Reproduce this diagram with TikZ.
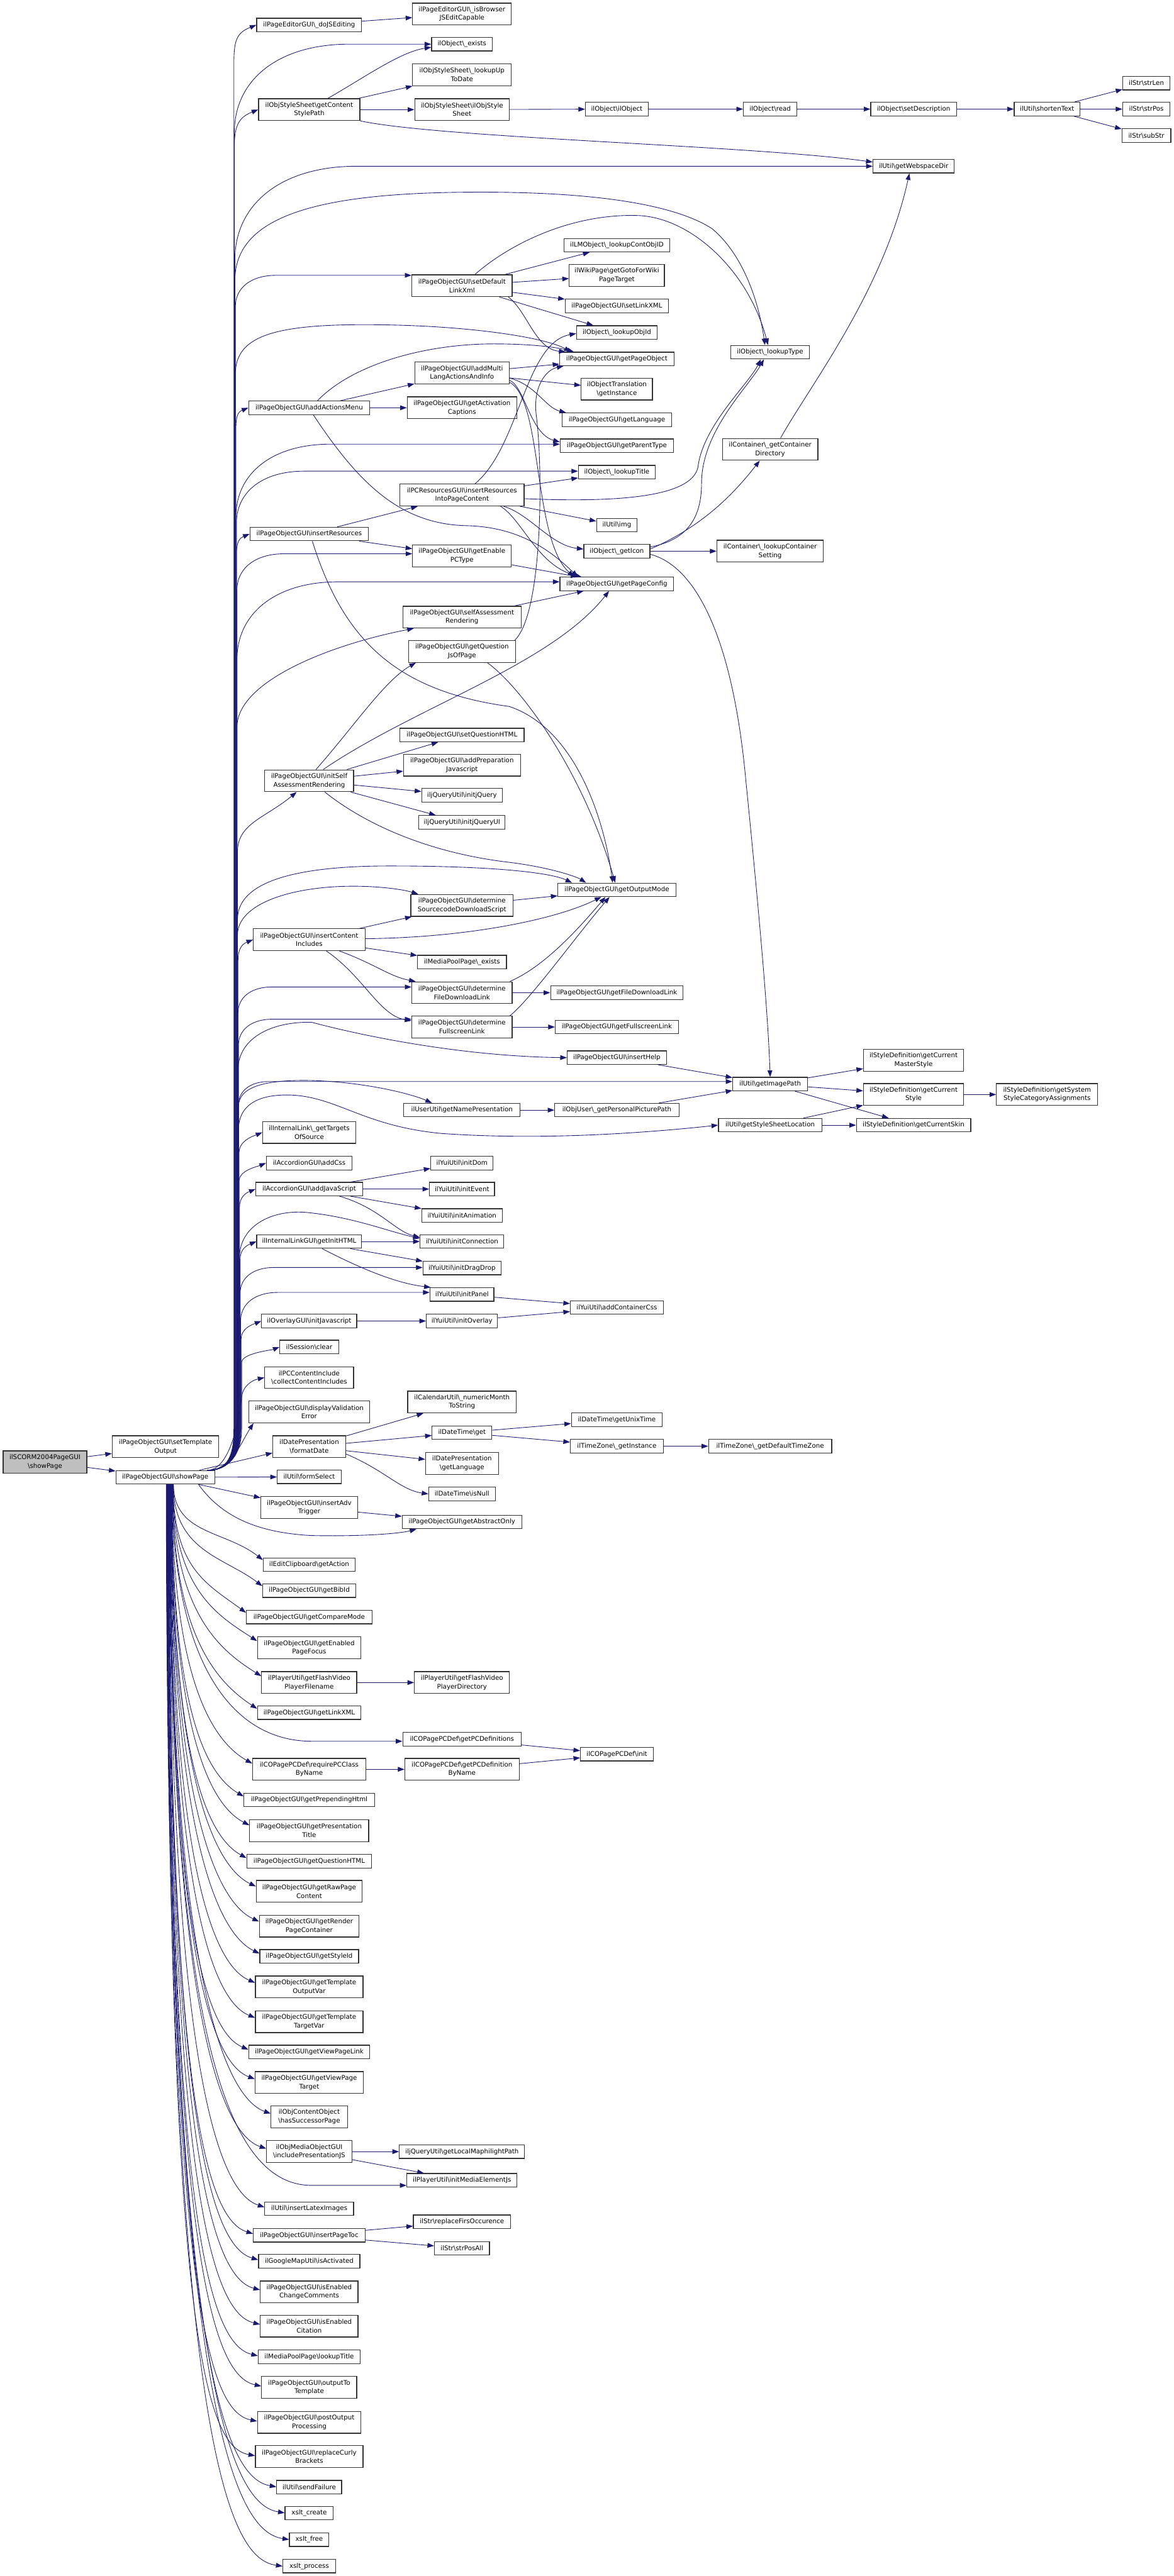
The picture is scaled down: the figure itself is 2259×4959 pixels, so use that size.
\documentclass[tikz,border=0pt]{standalone}
\usepackage{fontspec}
\setmainfont{DejaVu Sans}
\usetikzlibrary{arrows.meta,calc}
\definecolor{edgeblue}{HTML}{191970}
\definecolor{rootgray}{HTML}{BFBFBF}
\newcommand\bs{\textbackslash}
\newcommand\nodefont{\fontsize{3.53pt}{4.69pt}\selectfont}
\tikzset{
 nbox/.style={draw=black!80, line width=0.42pt, fill=white, inner sep=0pt, align=center, font=\nodefont},
 rootbox/.style={nbox, fill=rootgray},
 conn/.style={draw=edgeblue, line width=0.3pt, -{Triangle[length=3.6pt,width=2.6pt]}},
}
\newcommand\nd[6]{\node[nbox, minimum width={#4*0.01cm}, minimum height={#5*0.01cm}] (#1) at (#2,#3) {#6};}
\newcommand\fanU[4]{\draw[conn] ($(POshow.north east)+(-15,0)$) .. controls (440,2831) and (#3,2800) .. (#3,2750) -- (#3,{#2+#4}) .. controls (#3,{#2+0.4*#4}) and ($(#1)+({-0.5*#4},{0.2*#4})$) .. (#1);}
\newcommand\fanUf[4]{\draw[conn] ($(POshow.north east)+(-15,0)$) .. controls (440,2831) and (#3,2800) .. (#3,2750) -- (#3,{#2+#4}) .. controls (#3,{#2+0.4*#4}) and ({#3+0.5*#4},#2) .. ({#3+1.3*#4},#2) -- (#1 |- 0,#2);}
\newcommand\fanD[2]{%
 \pgfmathsetmacro\dd{(#2-2857)/2083}%
 \pgfmathsetmacro\sx{320+15*(1-\dd)}%
 \pgfmathsetmacro\cy{2857+(0.6+0.3*\dd)*(#2-2857)}%
 \pgfmathsetmacro\ex{70+30*\dd}%
 \pgfmathsetmacro\ey{70*(1-0.8*\dd)}%
 \pgfmathsetmacro\fr{0.15+0.35*\dd}%
 \draw[conn] (POshow.south -| \sx,0) .. controls (\sx,\cy) and ($(#1.west)+(-\ex,-\ey)$) .. ($(#1.north west)!\fr!(#1.south west)$);}
\newcommand\fanDf[2]{%
 \pgfmathsetmacro\dd{(#2-2857)/2083}%
 \pgfmathsetmacro\sx{320+15*(1-\dd)}%
 \pgfmathsetmacro\cy{2857+(0.6+0.3*\dd)*(#2-2857)}%
 \draw[conn] (POshow.south -| \sx,0) .. controls (\sx,\cy) and (440,#2) .. (600,#2) -- (#1.west |- 0,#2);}
\begin{document}
\begin{tikzpicture}[x=0.01cm,y=-0.01cm]
\fill[white] (0,0) rectangle (2259,4959);
\useasboundingbox (0,0) rectangle (2259,4959);
% ---------------- nodes
\node[rootbox, minimum width={161*0.01cm}, minimum height={43*0.01cm}] (root) at (86.5,2814.5) {ilSCORM2004PageGUI\\\bs showPage};
\nd{setTO}{318.5}{2785}{205}{42}{ilPageObjectGUI\bs setTemplate\\Output}
\nd{POshow}{318}{2844}{190}{26}{ilPageObjectGUI\bs showPage}
% column 2
\nd{doJS}{595}{48}{202}{26}{ilPageEditorGUI\bs\_doJSEditing}
\nd{getCSP}{595}{211}{195}{42}{ilObjStyleSheet\bs getContent\\StylePath}
\nd{addAM}{595}{785}{233}{26}{ilPageObjectGUI\bs addActionsMenu}
\nd{insRes}{595}{1028}{228}{26}{ilPageObjectGUI\bs insertResources}
\nd{initSAR}{595}{1503}{171}{42}{ilPageObjectGUI\bs initSelf\\AssessmentRendering}
\nd{insCI}{595}{1809}{215}{42}{ilPageObjectGUI\bs insertContent\\Includes}
\nd{getTOS}{595}{2180}{179}{42}{ilInternalLink\bs\_getTargets\\OfSource}
\nd{addCss}{595}{2239}{165}{26}{ilAccordionGUI\bs addCss}
\nd{addJS}{595}{2289}{205}{26}{ilAccordionGUI\bs addJavaScript}
\nd{getInitHTML}{595}{2390}{202}{26}{ilInternalLinkGUI\bs getInitHTML}
\nd{ovInitJS}{595}{2543}{183}{26}{ilOverlayGUI\bs initJavascript}
\nd{sessClear}{595}{2593}{113}{26}{ilSession\bs clear}
\nd{collectCI}{595}{2652}{171}{42}{ilPCContentInclude\\\bs collectContentIncludes}
\nd{dispVE}{595}{2718}{233}{42}{ilPageObjectGUI\bs displayValidation\\Error}
\nd{formatDate}{595}{2785}{140}{42}{ilDatePresentation\\\bs formatDate}
\nd{formSelect}{595}{2843}{123}{26}{ilUtil\bs formSelect}
\nd{insAdv}{595}{2902}{186}{42}{ilPageObjectGUI\bs insertAdv\\Trigger}
\nd{getAction}{595}{3012}{177}{26}{ilEditClipboard\bs getAction}
\nd{getBibId}{595}{3062}{179}{26}{ilPageObjectGUI\bs getBibId}
\nd{getCompare}{595}{3113}{242}{26}{ilPageObjectGUI\bs getCompareMode}
\nd{getEPF}{595}{3172}{199}{42}{ilPageObjectGUI\bs getEnabled\\PageFocus}
\nd{flashFN}{595}{3239}{183}{42}{ilPlayerUtil\bs getFlashVideo\\PlayerFilename}
\nd{getLinkXML}{595}{3297}{199}{26}{ilPageObjectGUI\bs getLinkXML}
\nd{reqPC}{595}{3406}{218}{42}{ilCOPagePCDef\bs requirePCClass\\ByName}
\nd{getPrep}{595}{3465}{251}{26}{ilPageObjectGUI\bs getPrependingHtml}
\nd{getPresT}{595}{3524}{229}{42}{ilPageObjectGUI\bs getPresentation\\Title}
\nd{getQHTML}{595}{3583}{240}{26}{ilPageObjectGUI\bs getQuestionHTML}
\nd{getRaw}{595}{3641}{204}{42}{ilPageObjectGUI\bs getRawPage\\Content}
\nd{getRender}{595}{3708}{192}{42}{ilPageObjectGUI\bs getRender\\PageContainer}
\nd{getStyleId}{595}{3766}{190}{26}{ilPageObjectGUI\bs getStyleId}
\nd{getTOV}{595}{3825}{207}{42}{ilPageObjectGUI\bs getTemplate\\OutputVar}
\nd{getTTV}{595}{3892}{207}{42}{ilPageObjectGUI\bs getTemplate\\TargetVar}
\nd{getVPL}{595}{3950}{233}{26}{ilPageObjectGUI\bs getViewPageLink}
\nd{getVPT}{595}{4009}{208}{42}{ilPageObjectGUI\bs getViewPage\\Target}
\nd{hasSucc}{595}{4075}{147}{42}{ilObjContentObject\\\bs hasSuccessorPage}
\nd{inclPJS}{595}{4142}{164}{42}{ilObjMediaObjectGUI\\\bs includePresentationJS}
\nd{insLatex}{595}{4252}{171}{26}{ilUtil\bs insertLatexImages}
\nd{insToc}{595}{4303}{215}{26}{ilPageObjectGUI\bs insertPageToc}
\nd{isAct}{595}{4353}{195}{26}{ilGoogleMapUtil\bs isActivated}
\nd{isECC}{595}{4412}{188}{42}{ilPageObjectGUI\bs isEnabled\\ChangeComments}
\nd{isECit}{595}{4478}{188}{42}{ilPageObjectGUI\bs isEnabled\\Citation}
\nd{mpLookupTitle}{595}{4537}{196}{26}{ilMediaPoolPage\bs lookupTitle}
\nd{outTT}{595}{4596}{183}{42}{ilPageObjectGUI\bs outputTo\\Template}
\nd{postOP}{595}{4663}{199}{42}{ilPageObjectGUI\bs postOutput\\Processing}
\nd{replCB}{595}{4729}{207}{42}{ilPageObjectGUI\bs replaceCurly\\Brackets}
\nd{sendFail}{595}{4788}{125}{26}{ilUtil\bs sendFailure}
\nd{xcreate}{595}{4838}{93}{26}{xslt\_create}
\nd{xfree}{595}{4889}{76}{26}{xslt\_free}
\nd{xproc}{595}{4940}{101}{26}{xslt\_process}
% column 3
\nd{isBrowser}{889}{27}{190}{42}{ilPageEditorGUI\bs\_isBrowser\\JSEditCapable}
\nd{objExists}{889}{85}{117}{26}{ilObject\bs\_exists}
\nd{lookupUTD}{889}{144}{190}{42}{ilObjStyleSheet\bs\_lookupUp\\ToDate}
\nd{objSS}{889}{211}{182}{42}{ilObjStyleSheet\bs ilObjStyle\\Sheet}
\nd{setDLX}{889}{550}{193}{42}{ilPageObjectGUI\bs setDefault\\LinkXml}
\nd{addMLA}{889}{718}{182}{42}{ilPageObjectGUI\bs addMulti\\LangActionsAndInfo}
\nd{getAC}{889}{785}{211}{42}{ilPageObjectGUI\bs getActivation\\Captions}
\nd{insRIPC}{889}{953}{239}{42}{ilPCResourcesGUI\bs insertResources\\IntoPageContent}
\nd{getEPC}{889}{1070}{190}{42}{ilPageObjectGUI\bs getEnable\\PCType}
\nd{selfAR}{889}{1188}{228}{42}{ilPageObjectGUI\bs selfAssessment\\Rendering}
\nd{getQJS}{889}{1254}{206}{42}{ilPageObjectGUI\bs getQuestion\\JsOfPage}
\nd{setQHTML}{889}{1415}{239}{26}{ilPageObjectGUI\bs setQuestionHTML}
\nd{addPrepJS}{889}{1473}{225}{42}{ilPageObjectGUI\bs addPreparation\\Javascript}
\nd{initjQ}{889}{1531}{155}{26}{iljQueryUtil\bs initjQuery}
\nd{initjQUI}{889}{1583}{166}{26}{iljQueryUtil\bs initjQueryUI}
\nd{detSDS}{889}{1743}{197}{42}{ilPageObjectGUI\bs determine\\SourcecodeDownloadScript}
\nd{mpExists}{889}{1852}{171}{26}{ilMediaPoolPage\bs\_exists}
\nd{detFDL}{889}{1911}{193}{42}{ilPageObjectGUI\bs determine\\FileDownloadLink}
\nd{detFSL}{889}{1977}{193}{42}{ilPageObjectGUI\bs determine\\FullscreenLink}
\nd{getNP}{889}{2137}{224}{26}{ilUserUtil\bs getNamePresentation}
\nd{initDom}{889}{2239}{120}{26}{ilYuiUtil\bs initDom}
\nd{initEvent}{889}{2289}{125}{26}{ilYuiUtil\bs initEvent}
\nd{initAnim}{889}{2340}{155}{26}{ilYuiUtil\bs initAnimation}
\nd{initConn}{889}{2390}{161}{26}{ilYuiUtil\bs initConnection}
\nd{initDD}{889}{2441}{150}{26}{ilYuiUtil\bs initDragDrop}
\nd{initPanel}{889}{2492}{123}{26}{ilYuiUtil\bs initPanel}
\nd{initOverlay}{889}{2543}{137}{26}{ilYuiUtil\bs initOverlay}
\nd{numMonth}{889}{2699}{209}{42}{ilCalendarUtil\bs\_numericMonth\\ToString}
\nd{dtGet}{889}{2758}{115}{26}{ilDateTime\bs get}
\nd{dpGetLang}{889}{2817}{140}{42}{ilDatePresentation\\\bs getLanguage}
\nd{dtIsNull}{889}{2876}{128}{26}{ilDateTime\bs isNull}
\nd{getAbsOnly}{889}{2930}{230}{26}{ilPageObjectGUI\bs getAbstractOnly}
\nd{flashDir}{889}{3239}{183}{42}{ilPlayerUtil\bs getFlashVideo\\PlayerDirectory}
\nd{getPCDefs}{889}{3348}{228}{26}{ilCOPagePCDef\bs getPCDefinitions}
\nd{getPCDefBN}{889}{3406}{220}{42}{ilCOPagePCDef\bs getPCDefinition\\ByName}
\nd{maphilight}{889}{4142}{241}{26}{iljQueryUtil\bs getLocalMaphilightPath}
\nd{initMEJS}{889}{4197}{212}{26}{ilPlayerUtil\bs initMediaElementJs}
\nd{replFirst}{889}{4277}{187}{26}{ilStr\bs replaceFirsOccurence}
\nd{strPosAll}{889}{4328}{106}{26}{ilStr\bs strPosAll}
% column 4
\nd{objIlObj}{1187}{210}{121}{26}{ilObject\bs ilObject}
\nd{lmLookup}{1187}{472}{204}{26}{ilLMObject\bs\_lookupContObjID}
\nd{wikiGoto}{1187}{530}{183}{42}{ilWikiPage\bs getGotoForWiki\\PageTarget}
\nd{setLinkXML}{1187}{589}{199}{26}{ilPageObjectGUI\bs setLinkXML}
\nd{lookupObjId}{1187}{640}{155}{26}{ilObject\bs\_lookupObjId}
\nd{getPO}{1187}{691}{220}{26}{ilPageObjectGUI\bs getPageObject}
\nd{objTrans}{1187}{749}{137}{42}{ilObjectTranslation\\\bs getInstance}
\nd{getLang}{1187}{808}{210}{26}{ilPageObjectGUI\bs getLanguage}
\nd{getParentType}{1187}{858}{218}{26}{ilPageObjectGUI\bs getParentType}
\nd{lookupTitle}{1187}{909}{148}{26}{ilObject\bs\_lookupTitle}
\nd{utilImg}{1187}{1011}{78}{26}{ilUtil\bs img}
\nd{getIcon}{1187}{1061}{127}{26}{ilObject\bs\_getIcon}
\nd{getPC}{1187}{1124}{219}{26}{ilPageObjectGUI\bs getPageConfig}
\nd{getOM}{1187}{1713}{227}{26}{ilPageObjectGUI\bs getOutputMode}
\nd{getFDL}{1187}{1911}{255}{26}{ilPageObjectGUI\bs getFileDownloadLink}
\nd{getFSL}{1187}{1977}{237}{26}{ilPageObjectGUI\bs getFullscreenLink}
\nd{insHelp}{1187}{2036}{191}{26}{ilPageObjectGUI\bs insertHelp}
\nd{persPic}{1187}{2137}{239}{26}{ilObjUser\bs\_getPersonalPicturePath}
\nd{addCC}{1187}{2517}{179}{26}{ilYuiUtil\bs addContainerCss}
\nd{unixTime}{1187}{2733}{175}{26}{ilDateTime\bs getUnixTime}
\nd{tzGetInst}{1187}{2784}{179}{26}{ilTimeZone\bs\_getInstance}
\nd{pcInit}{1187}{3377}{140}{26}{ilCOPagePCDef\bs init}
% column 5
\nd{objRead}{1482}{210}{103}{26}{ilObject\bs read}
\nd{lookupType}{1482}{678}{151}{26}{ilObject\bs\_lookupType}
\nd{contDir}{1482}{865}{184}{42}{ilContainer\bs\_getContainer\\Directory}
\nd{contSetting}{1482}{1061}{205}{42}{ilContainer\bs\_lookupContainer\\Setting}
\nd{getImgPath}{1482}{2087}{144}{26}{ilUtil\bs getImagePath}
\nd{getSSL}{1482}{2166}{199}{26}{ilUtil\bs getStyleSheetLocation}
\nd{tzDefault}{1482}{2784}{237}{26}{ilTimeZone\bs\_getDefaultTimeZone}
% column 6
\nd{setDesc}{1758}{210}{165}{26}{ilObject\bs setDescription}
\nd{webspace}{1758}{320}{156}{26}{ilUtil\bs getWebspaceDir}
\nd{curMaster}{1758}{2041}{193}{42}{ilStyleDefinition\bs getCurrent\\MasterStyle}
\nd{curStyle}{1758}{2107}{193}{42}{ilStyleDefinition\bs getCurrent\\Style}
\nd{curSkin}{1758}{2166}{220}{26}{ilStyleDefinition\bs getCurrentSkin}
% column 7, 8
\nd{shorten}{2015}{210}{127}{26}{ilUtil\bs shortenText}
\nd{sysStyle}{2015}{2107}{195}{42}{ilStyleDefinition\bs getSystem\\StyleCategoryAssignments}
\nd{strLen}{2206}{160}{91}{26}{ilStr\bs strLen}
\nd{strPos}{2206}{210}{91}{26}{ilStr\bs strPos}
\nd{subStr}{2206}{261}{94}{26}{ilStr\bs subStr}
% ---------------- straight connectors
\foreach \a/\b in {root/setTO, root/POshow, doJS/isBrowser, getCSP/lookupUTD, getCSP/objSS,
 objSS/objIlObj, objIlObj/objRead, objRead/setDesc, setDesc/shorten, shorten/strLen, shorten/strPos,
 shorten/subStr, setDLX/lmLookup, setDLX/wikiGoto, setDLX/setLinkXML, setDLX/lookupObjId,
 addAM/addMLA, addAM/getAC, addMLA/getPO, addMLA/objTrans, insRIPC/lookupTitle, insRIPC/utilImg,
 insRes/insRIPC, insRes/getEPC, getEPC/getPC, selfAR/getPC, getIcon/contSetting,
 initSAR/setQHTML, initSAR/addPrepJS, initSAR/initjQ, initSAR/initjQUI, insCI/detSDS, insCI/mpExists,
 detSDS/getOM, detFDL/getFDL, detFSL/getFSL, getNP/persPic, persPic/getImgPath, insHelp/getImgPath,
 getImgPath/curMaster, getImgPath/curStyle, getImgPath/curSkin, getSSL/curStyle, getSSL/curSkin,
 curStyle/sysStyle, addJS/initDom, addJS/initEvent, addJS/initAnim, getInitHTML/initConn,
 getInitHTML/initDD, initPanel/addCC, initOverlay/addCC, ovInitJS/initOverlay, formatDate/numMonth,
 formatDate/dtGet, formatDate/dpGetLang, dtGet/unixTime, dtGet/tzGetInst, tzGetInst/tzDefault,
 POshow/formSelect, insAdv/getAbsOnly, flashFN/flashDir, getPCDefs/pcInit, reqPC/getPCDefBN,
 getPCDefBN/pcInit, inclPJS/maphilight, inclPJS/initMEJS, insToc/replFirst, insToc/strPosAll}
 {\draw[conn] (\a) -- (\b);}
% ---------------- curved connectors
\draw[conn] ($(getCSP.north)+(36,0)$) .. controls (700,150) and (770,100) .. ($(objExists.west)+(0,6)$);
\draw[conn] (getCSP.south east) .. controls (850,266) and (1450,280) .. ($(webspace.west)+(0,-8)$);
\draw[conn] ($(setDLX.south east)+(-8,0)$) .. controls (1015,600) and (1030,672) .. ($(getPO.north west)+(12,0)$);
\draw[conn] ($(setDLX.north)+(25,0)$) .. controls (980,470) and (1100,410) .. (1230,415) .. controls (1330,420) and (1440,520) .. ($(lookupType.north)+(-4,0)$);
\draw[conn] ($(addAM.north)+(16,0)$) .. controls (680,700) and (820,662) .. (950,662) .. controls (1020,662) and (1070,668) .. ($(getPO.north west)+(28,0)$);
\draw[conn] ($(addAM.south)+(8,0)$) .. controls (690,930) and (770,1010) .. (900,1012) .. controls (1000,1015) and (1060,1060) .. ($(getPC.north west)+(35,0)$);
\draw[conn] ($(addMLA.east)+(0,10)$) .. controls (1030,740) and (1050,785) .. ($(getLang.north west)+(8,0)$);
\draw[conn] ($(addMLA.east)+(0,14)$) .. controls (1010,745) and (1020,835) .. ($(getParentType.west)+(0,-7)$);
\draw[conn] ($(addMLA.east)+(0,18)$) .. controls (1045,770) and (1025,1040) .. ($(getPC.north west)+(28,0)$);
\draw[conn] ($(insRIPC.north)+(25,0)$) .. controls (1000,860) and (1010,660) .. ($(lookupObjId.west)+(0,2)$);
\draw[conn] ($(getQJS.north east)+(-2,0)$) .. controls (1045,1180) and (1045,900) .. (1032,800) .. controls (1025,745) and (1050,712) .. ($(getPO.south west)+(8,0)$);
\draw[conn] ($(insRIPC.south east)+(-40,0)$) .. controls (1020,990) and (1060,1050) .. ($(getIcon.west)+(0,-4)$);
\draw[conn] ($(insRIPC.south east)+(-46,0)$) .. controls (1005,1000) and (1035,1090) .. ($(getPC.north west)+(42,0)$);
\draw[conn] ($(insRIPC.east)+(0,7)$) .. controls (1200,968) and (1330,955) .. (1343,900) .. controls (1352,820) and (1440,740) .. ($(lookupType.south)+(-18,0)$);
\draw[conn] ($(getIcon.east)+(0,-8)$) .. controls (1320,1040) and (1350,1000) .. (1350,930) .. controls (1350,830) and (1440,745) .. ($(lookupType.south)+(-12,0)$);
\draw[conn] ($(getIcon.east)+(0,-4)$) .. controls (1360,1010) and (1420,940) .. ($(contDir.south)+(-20,0)$);
\draw[conn] ($(getIcon.east)+(0,6)$) .. controls (1340,1090) and (1410,1230) .. (1435,1500) .. controls (1460,1750) and (1478,1950) .. (getImgPath.north);
\draw[conn] ($(contDir.north)+(20,0)$) .. controls (1560,740) and (1700,560) .. ($(webspace.south)+(-8,0)$);
\draw[conn] ($(insRes.south)+(6,0)$) .. controls (660,1230) and (760,1330) .. (980,1360) .. controls (1100,1400) and (1160,1560) .. ($(getOM.north)+(-8,0)$);
\draw[conn] ($(initSAR.north)+(13,0)$) .. controls (680,1400) and (740,1310) .. ($(getQJS.south west)+(15,0)$);
\draw[conn] ($(initSAR.north)+(27,0)$) .. controls (800,1360) and (1060,1280) .. ($(getPC.south)+(-15,0)$);
\draw[conn] ($(initSAR.south)+(30,0)$) .. controls (720,1600) and (850,1645) .. (980,1660) .. controls (1060,1670) and (1110,1688) .. ($(getOM.north west)+(55,0)$);
\draw[conn] ($(getQJS.south east)+(-55,0)$) .. controls (1000,1320) and (1120,1480) .. ($(getOM.north)+(-3,0)$);
\draw[conn] ($(insCI.east)+(0,-2)$) .. controls (900,1805) and (1070,1770) .. ($(getOM.south)+(-30,0)$);
\draw[conn] ($(insCI.south east)+(-50,0)$) .. controls (720,1855) and (750,1880) .. ($(detFDL.north west)+(8,0)$);
\draw[conn] ($(insCI.south)+(33,0)$) .. controls (700,1880) and (730,1955) .. ($(detFSL.west)+(0,-12)$);
\draw[conn] ($(detFDL.north east)+(-5,0)$) .. controls (1050,1860) and (1120,1780) .. ($(getOM.south)+(-22,0)$);
\draw[conn] ($(detFSL.north east)+(-5,0)$) .. controls (1020,1925) and (1110,1800) .. ($(getOM.south)+(-14,0)$);
\draw[conn] ($(addJS.south east)+(-45,0)$) .. controls (730,2325) and (760,2370) .. ($(initConn.west)+(0,-8)$);
\draw[conn] ($(getInitHTML.south)+(25,0)$) .. controls (690,2440) and (760,2470) .. ($(initPanel.north west)+(2,0)$);
\draw[conn] ($(formatDate.east)+(0,14)$) .. controls (740,2830) and (770,2868) .. (dtIsNull.west);
\draw[conn] ($(POshow.north east)+(-30,0)$) -- ($(formatDate.west)+(0,12)$);
\draw[conn] ($(POshow.south east)+(-31,0)$) -- ($(insAdv.north west)+(0,3)$);
\draw[conn] ($(POshow.south)+(64,0)$) .. controls (420,2910) and (480,2950) .. (600,2956) .. controls (700,2958) and (770,2952) .. ($(getAbsOnly.south west)+(28,0)$);
% ---------------- fan from showPage upwards
\fanU{doJS.west}{48}{450}{80}
\fanUf{objExists.west}{85}{451}{170}
\fanU{getCSP.west}{211}{451}{70}
\fanUf{webspace.west}{320}{452}{180}
\draw[conn] ($(POshow.north east)+(-15,0)$) .. controls (440,2831) and (452,2800) .. (452,2750) -- (452,540) .. controls (452,420) and (600,372) .. (900,370) .. controls (1150,368) and (1300,395) .. (1370,440) .. controls (1430,490) and (1460,580) .. ($(lookupType.north)+(-10,0)$);
\fanUf{setDLX.west}{530}{453}{60}
\draw[conn] ($(POshow.north east)+(-15,0)$) .. controls (440,2831) and (453,2800) .. (453,2750) -- (453,720) .. controls (453,650) and (520,625) .. (700,625) .. controls (900,625) and (1050,650) .. ($(getPO.north west)+(22,0)$);
\fanU{addAM.west}{785}{454}{40}
\fanUf{getParentType.west}{855}{454}{140}
\fanUf{lookupTitle.west}{907}{455}{100}
\fanU{insRes.west}{1028}{455}{40}
\fanUf{getEPC.west}{1066}{456}{70}
\fanUf{getPC.west}{1120}{456}{150}
\draw[conn] ($(POshow.north east)+(-15,0)$) .. controls (440,2831) and (456,2800) .. (456,2750) -- (456,1400) .. controls (456,1310) and (640,1240) .. ($(selfAR.south west)+(22,0)$);
\draw[conn] ($(POshow.north east)+(-15,0)$) .. controls (440,2831) and (457,2800) .. (457,2750) -- (457,1640) .. controls (457,1585) and (510,1575) .. ($(initSAR.south west)+(62,0)$);
\draw[conn] ($(POshow.north east)+(-15,0)$) .. controls (440,2831) and (457,2800) .. (457,2750) -- (457,1770) .. controls (457,1700) and (560,1667) .. (750,1667) .. controls (950,1667) and (1060,1680) .. ($(getOM.north west)+(28,0)$);
\draw[conn] ($(POshow.north east)+(-15,0)$) .. controls (440,2831) and (457,2800) .. (457,2750) -- (457,1800) .. controls (457,1740) and (560,1706) .. (680,1706) .. controls (730,1706) and (775,1712) .. ($(detSDS.north west)+(15,0)$);
\fanU{insCI.west}{1809}{458}{40}
\fanUf{detFDL.west}{1900}{458}{50}
\fanUf{detFSL.west}{1962}{459}{50}
\draw[conn] ($(POshow.north east)+(-15,0)$) .. controls (440,2831) and (458,2800) .. (458,2750) -- (458,2060) .. controls (458,2000) and (520,1966) .. (600,1968) .. controls (740,2005) and (920,2034) .. (insHelp.west);
\fanUf{getImgPath.west}{2082}{459}{45}
\draw[conn] ($(POshow.north east)+(-15,0)$) .. controls (440,2831) and (459,2800) .. (459,2750) -- (459,2130) .. controls (459,2092) and (510,2078) .. (600,2080) .. controls (700,2083) and (790,2105) .. ($(getNP.north west)+(55,0)$);
\draw[conn] ($(POshow.north east)+(-15,0)$) .. controls (440,2831) and (459,2800) .. (459,2750) -- (459,2175) .. controls (459,2125) and (500,2106) .. (560,2108) .. controls (650,2112) and (700,2168) .. (850,2182) .. controls (1050,2196) and (1250,2180) .. (getSSL.west);
\fanU{getTOS.west}{2180}{460}{40}
\fanU{addCss.west}{2239}{460}{35}
\fanU{addJS.west}{2289}{461}{35}
\draw[conn] ($(POshow.north east)+(-15,0)$) .. controls (440,2831) and (461,2800) .. (461,2750) -- (461,2420) .. controls (461,2362) and (520,2328) .. (590,2334) .. controls (680,2343) and (745,2370) .. ($(initConn.west)+(0,-6)$);
\fanU{getInitHTML.west}{2390}{462}{35}
\fanUf{initDD.west}{2440}{462}{50}
\fanUf{initPanel.west}{2488}{463}{55}
\fanU{ovInitJS.west}{2543}{464}{35}
\fanU{sessClear.west}{2593}{465}{30}
\draw[conn] ($(POshow.north east)+(-15,0)$) .. controls (445,2831) and (462,2720) .. (465,2690) .. controls (467,2668) and (485,2657) .. (collectCI.west);
\draw[conn] ($(POshow.north east)+(-15,0)$) .. controls (445,2831) and (465,2775) .. ($(dispVE.south west)+(10,0)$);
% ---------------- fan from showPage downwards
\fanD{getAction}{3012}
\fanD{getBibId}{3062}
\fanD{getCompare}{3113}
\fanD{getEPF}{3172}
\fanD{flashFN}{3239}
\fanD{getLinkXML}{3297}
\fanDf{getPCDefs}{3352}
\fanD{reqPC}{3406}
\fanD{getPrep}{3465}
\fanD{getPresT}{3524}
\fanD{getQHTML}{3583}
\fanD{getRaw}{3641}
\fanD{getRender}{3708}
\fanD{getStyleId}{3766}
\fanD{getTOV}{3825}
\fanD{getTTV}{3892}
\fanD{getVPL}{3950}
\fanD{getVPT}{4009}
\fanD{hasSucc}{4075}
\fanD{inclPJS}{4142}
\fanDf{initMEJS}{4207}
\fanD{insLatex}{4252}
\fanD{insToc}{4303}
\fanD{isAct}{4353}
\fanD{isECC}{4412}
\fanD{isECit}{4478}
\fanD{mpLookupTitle}{4537}
\fanD{outTT}{4596}
\fanD{postOP}{4663}
\fanD{replCB}{4729}
\fanD{sendFail}{4788}
\fanD{xcreate}{4838}
\fanD{xfree}{4889}
\fanD{xproc}{4940}
\end{tikzpicture}
\end{document}
